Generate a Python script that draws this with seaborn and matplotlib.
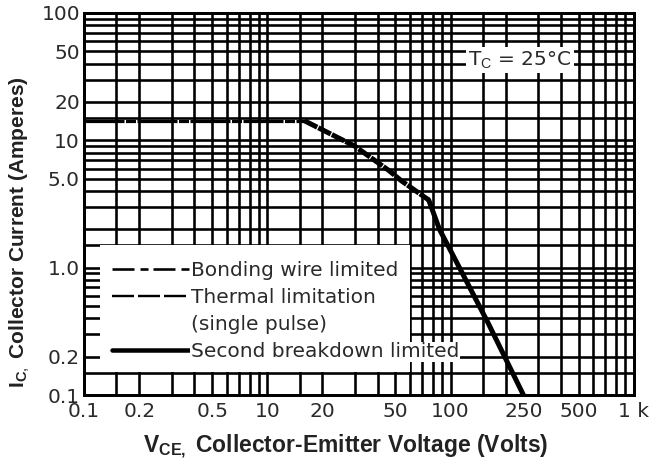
import numpy as np
import pandas as pd
import matplotlib
matplotlib.use("Agg")
import matplotlib.pyplot as plt
from matplotlib.ticker import FixedLocator, FixedFormatter, NullFormatter
from matplotlib.lines import Line2D
from matplotlib.patches import Rectangle
import seaborn as sns

# ---------------- data ----------------
bond_v = [0.1, 16]
bond_i = [14.2, 14.2]

thermal_v = [16, 30, 46, 54, 76]
thermal_i = [14.2, 9.0, 5.8, 4.8, 3.4]

breakdown_v = [76, 87, 106, 160, 250]
breakdown_i = [3.4, 2.0, 1.16, 0.37, 0.1]

xtick_vals = [0.1, 0.2, 0.5, 10, 20, 50, 100, 250, 500, 1000]
xtick_labels = ["0.1", "0.2", "0.5", "10", "20", "50", "100", "250", "500", "1 k"]
ytick_vals = [0.1, 0.2, 1, 5, 10, 20, 50, 100]
ytick_labels = ["0.1", "0.2", "1.0", "5.0", "10", "20", "50", "100"]

grid_mult = [1, 1.5, 2, 3, 4, 5, 6, 7, 8, 9]
x_decades = [0.1, 10, 100]
y_decades = [0.1, 1, 10]

legend_labels = ["Bonding wire limited", "Thermal limitation", "(single pulse)",
                 "Second breakdown limited"]

# ---------------- style ----------------
sns.set_style("white")
plt.rcParams["font.family"] = ["DejaVu Sans"]
plt.rcParams["mathtext.fontset"] = "custom"
plt.rcParams["mathtext.rm"] = "Liberation Sans"
plt.rcParams["mathtext.bf"] = "Liberation Sans:bold"
plt.rcParams["lines.scale_dashes"] = False

fig = plt.figure(figsize=(6.52, 4.62), dpi=100)
ax = fig.add_axes([0.129, 0.145, 0.972 - 0.129, 0.972 - 0.145])
ax.set_axisbelow(True)


# broken log axis: 0.1..1 decade, then 10..1000 (1..10 omitted)
def fwd(v):
    v = np.asarray(v, dtype=float)
    with np.errstate(divide="ignore", invalid="ignore"):
        lv = np.log10(np.clip(v, 1e-12, None))
    return np.where(lv <= 0, lv, np.where(lv >= 1, lv - 1, 0.0))


def inv(u):
    u = np.asarray(u, dtype=float)
    return np.where(u <= 0, 10.0 ** u, 10.0 ** (u + 1))


df_bond = pd.DataFrame({"V": bond_v, "I": bond_i})
df_th = pd.DataFrame({"V": thermal_v, "I": thermal_i})
df_sb = pd.DataFrame({"V": breakdown_v, "I": breakdown_i})

px = 0.72  # points per pixel at dpi 100
sns.lineplot(data=df_bond, x="V", y="I", ax=ax, estimator=None, sort=False,
             color="black", lw=3.2 * px, linestyle=(0, (40 * px, 1.5 * px, 10 * px, 1.5 * px)),
             zorder=4)
sns.lineplot(data=df_th, x="V", y="I", ax=ax, estimator=None, sort=False,
             color="black", lw=5 * px, linestyle=(0, (14 * px, 1.2 * px)), zorder=4)
sns.lineplot(data=df_sb, x="V", y="I", ax=ax, estimator=None, sort=False,
             color="black", lw=5 * px, linestyle="-", zorder=4)

ax.set_xscale("function", functions=(fwd, inv))
ax.set_yscale("log")
ax.set_xlim(0.1, 1000)
ax.set_ylim(0.1, 100)

xgrid = [d * m for d in x_decades for m in grid_mult] + [1000]
ygrid = [d * m for d in y_decades for m in grid_mult] + [100]

ax.xaxis.set_major_locator(FixedLocator(xtick_vals))
ax.xaxis.set_major_formatter(FixedFormatter(xtick_labels))
ax.xaxis.set_minor_locator(FixedLocator(xgrid))
ax.xaxis.set_minor_formatter(NullFormatter())
ax.yaxis.set_major_locator(FixedLocator(ytick_vals))
ax.yaxis.set_major_formatter(FixedFormatter(ytick_labels))
ax.yaxis.set_minor_locator(FixedLocator(ygrid))
ax.yaxis.set_minor_formatter(NullFormatter())
ax.xaxis.remove_overlapping_locs = False
ax.yaxis.remove_overlapping_locs = False

ax.grid(False, which="major")
ax.grid(True, which="minor", color="black", lw=2.6 * px)
ax.tick_params(which="both", length=0)
ax.tick_params(axis="x", which="major", pad=5, labelsize=14.5, labelcolor="#2a2a2a")
ax.tick_params(axis="y", which="major", pad=3, labelsize=14.5, labelcolor="#2a2a2a")

for s in ax.spines.values():
    s.set_color("black")
    s.set_linewidth(3 * px)

# legend white area
ax.add_patch(Rectangle((0.029, 0.06), 0.564, 0.333, transform=ax.transAxes,
                       facecolor="white", edgecolor="none", zorder=1))

handles = [
    Line2D([], [], color="black", lw=2.6 * px,
           linestyle=(0, (22 * px, 6 * px, 8 * px, 5 * px))),
    Line2D([], [], color="black", lw=2.4 * px, linestyle=(0, (22 * px, 4 * px))),
    Line2D([], [], linestyle="none"),
    Line2D([], [], color="black", lw=4.5 * px, linestyle="-"),
]
leg = ax.legend(handles, legend_labels, loc="upper left",
                bbox_to_anchor=(0.051, 0.350), frameon=False, fontsize=14.5,
                handlelength=3.8, handletextpad=0.1, labelspacing=0.40,
                borderpad=0, borderaxespad=0)
leg.set_zorder(6)
for t in leg.get_texts():
    t.set_color("#2a2a2a")
leg.get_texts()[3].set_bbox(dict(facecolor="white", edgecolor="none", pad=0.5))

ax.text(0.793, 0.877, r"T$_\mathrm{C}$ = 25°C", transform=ax.transAxes,
        ha="center", va="center", fontsize=14.5, color="#2a2a2a", zorder=6,
        bbox=dict(facecolor="white", edgecolor="none", pad=1.5))

ax.set_xlabel(r"V$_{\mathbf{CE,}}$ Collector-Emitter Voltage (Volts)",
              family="Liberation Sans", fontweight="bold", fontsize=16.5, color="#222222")
ax.set_ylabel(r"I$_{\mathbf{C},}$ Collector Current (Amperes)",
              family="Liberation Sans", fontweight="bold", fontsize=15, color="#222222")
ax.xaxis.set_label_coords(0.476, -0.10)
ax.yaxis.set_label_coords(-0.095, 0.427)

fig.savefig("out.png", dpi=100)
